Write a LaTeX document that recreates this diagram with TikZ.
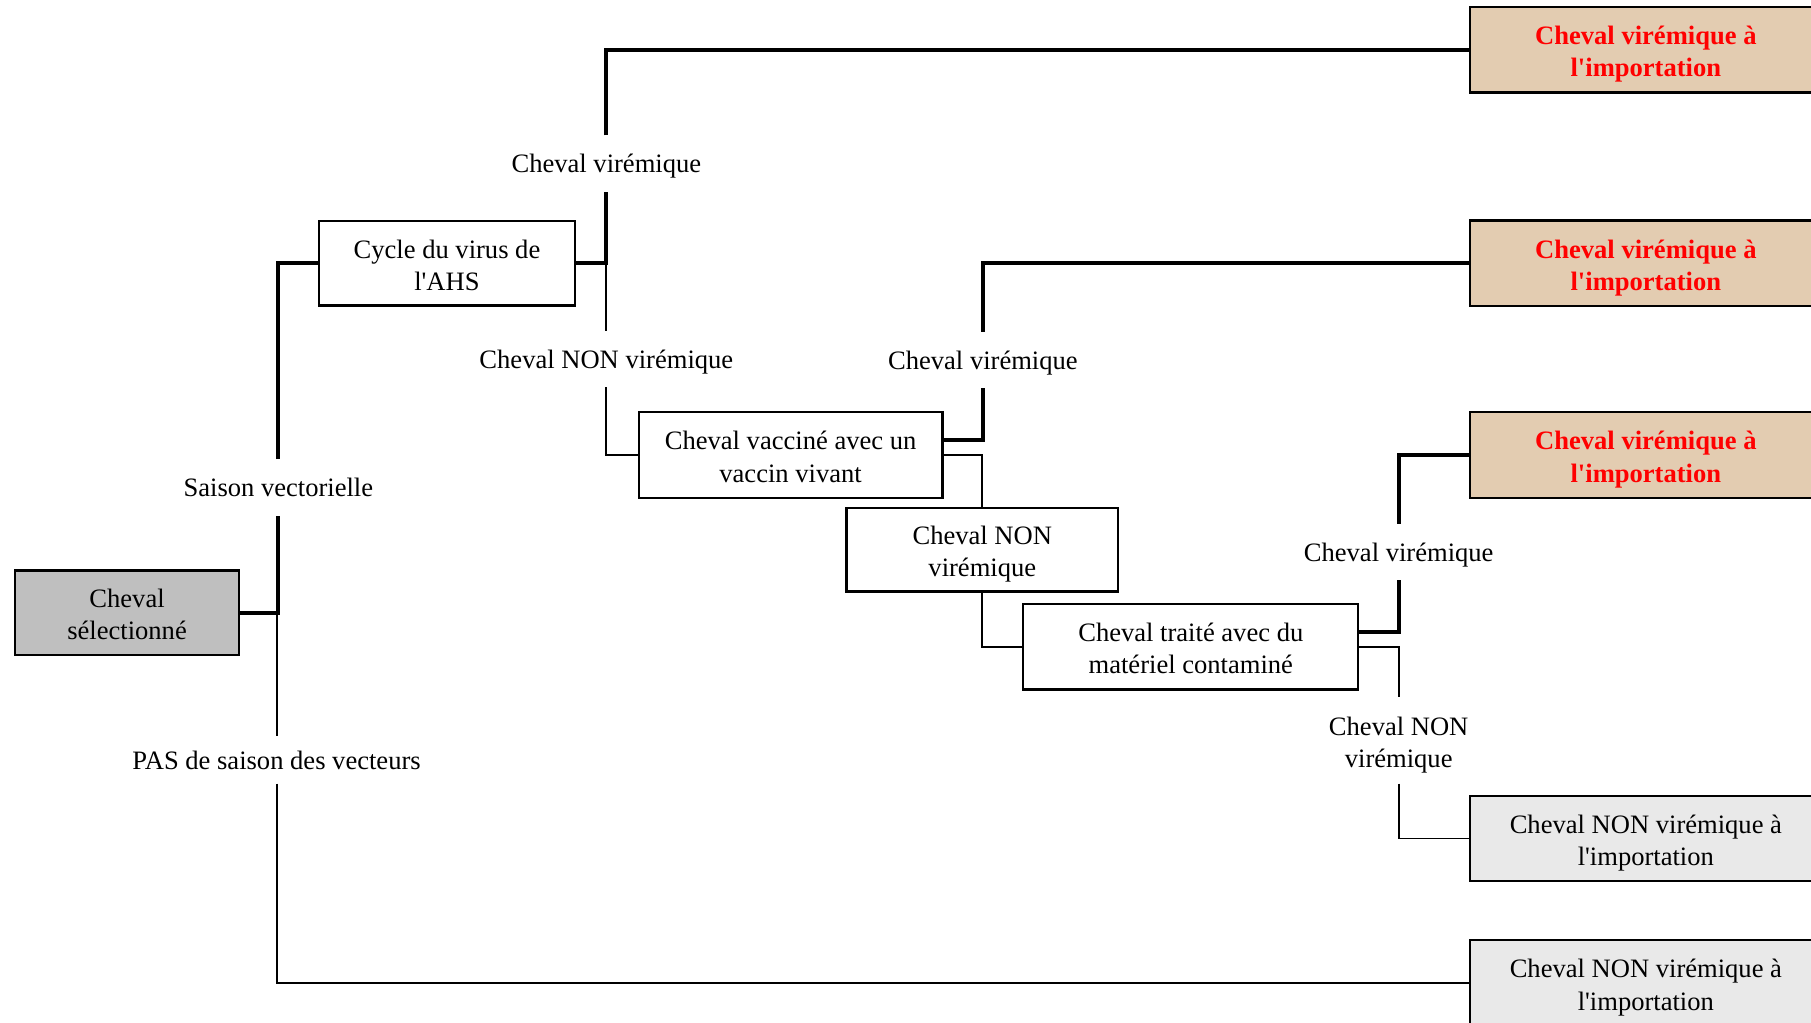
\documentclass[tikz,border=0pt]{standalone}
\usepackage{fontspec}
\setmainfont{Liberation Serif}
\definecolor{selgray}{HTML}{BFBFBF}
\definecolor{tan}{HTML}{E3CCB1}
\definecolor{lgray}{HTML}{E9E9E9}
\definecolor{vred}{HTML}{FF0000}
\newcommand{\apo}{\textquotesingle}
\begin{document}
\begin{tikzpicture}[x=0.5pt,y=-0.5pt,
  font=\fontsize{11.5pt}{14pt}\selectfont,
  box/.style={draw=black,line width=1pt,inner sep=0pt,align=center,minimum height=37pt,text height=26pt,text depth=2.5pt},
  lbl/.style={inner sep=0pt,align=center,minimum height=24pt,text height=10.6pt,text depth=2.5pt},
  lbltwo/.style={inner sep=0pt,align=center,minimum height=37pt,text height=26pt,text depth=2.5pt},
  thk/.style={line width=1.8pt},
  thn/.style={line width=0.8pt},
  redbox/.style={box,fill=tan,text=vred,font=\fontsize{11.5pt}{14pt}\selectfont\bfseries,minimum width=152pt},
  greybox/.style={box,fill=lgray,minimum width=152pt}]
\useasboundingbox (0,0) rectangle (1568,885);
% boxes
\node[box,fill=selgray,minimum width=97pt,minimum height=36.5pt] (sel) at (110,530.5) {Cheval\\sélectionné};
\node[box,minimum width=111pt,minimum height=36.5pt] (cyc) at (387,228) {Cycle du virus de\\l\apo AHS};
\node[box,minimum width=131.5pt] (vac) at (684.5,394) {Cheval vacciné avec un\\vaccin vivant};
\node[box,minimum width=117.5pt,minimum height=36pt] (cnvb) at (850.5,476) {Cheval NON\\virémique};
\node[box,minimum width=145pt] (trt) at (1031,560) {Cheval traité avec du\\matériel contaminé};
\node[redbox] (b1) at (1425,43) {Cheval virémique à\\l\apo importation};
\node[redbox] (b2) at (1425,228) {Cheval virémique à\\l\apo importation};
\node[redbox] (b3) at (1425,394) {Cheval virémique à\\l\apo importation};
\node[greybox] (b4) at (1425,726) {Cheval NON virémique à\\l\apo importation};
\node[greybox] (b5) at (1425,851) {Cheval NON virémique à\\l\apo importation};
% labels
\node[lbl] (sv) at (241,422) {Saison vectorielle};
\node[lbl,minimum height=20pt] (pas) at (239.5,658) {PAS de saison des vecteurs};
\node[lbl] (cv1) at (525,141.5) {Cheval virémique};
\node[lbl] (cnv1) at (525,311) {Cheval NON virémique};
\node[lbl] (cv2) at (851,311.5) {Cheval virémique};
\node[lbl] (cv3) at (1211,478) {Cheval virémique};
\node[lbltwo] (cnv3) at (1211,641) {Cheval NON\\virémique};
% connectors
\draw[thn] (sel.east) -| (pas.north);
\draw[thn] (pas.south) |- (b5.west);
\draw[thk] (sel.east) -| (sv.south);
\draw[thk] (sv.north) |- (cyc.west);
\draw[thn] (cyc.east) -| (cnv1.north);
\draw[thn] (cnv1.south) |- (vac.west);
\draw[thk] (cyc.east) -| (cv1.south);
\draw[thk] (cv1.north) |- (b1.west);
\draw[thn] (vac.east) -| (cnvb.north);
\draw[thk] ([yshift=6.5pt]vac.east) -| (cv2.south);
\draw[thk] (cv2.north) |- (b2.west);
\draw[thn] (cnvb.south) |- (trt.west);
\draw[thn] (trt.east) -| (cnv3.north);
\draw[thn] (cnv3.south) |- (b4.west);
\draw[thk] ([yshift=6.5pt]trt.east) -| (cv3.south);
\draw[thk] (cv3.north) |- (b3.west);
\end{tikzpicture}
\end{document}
